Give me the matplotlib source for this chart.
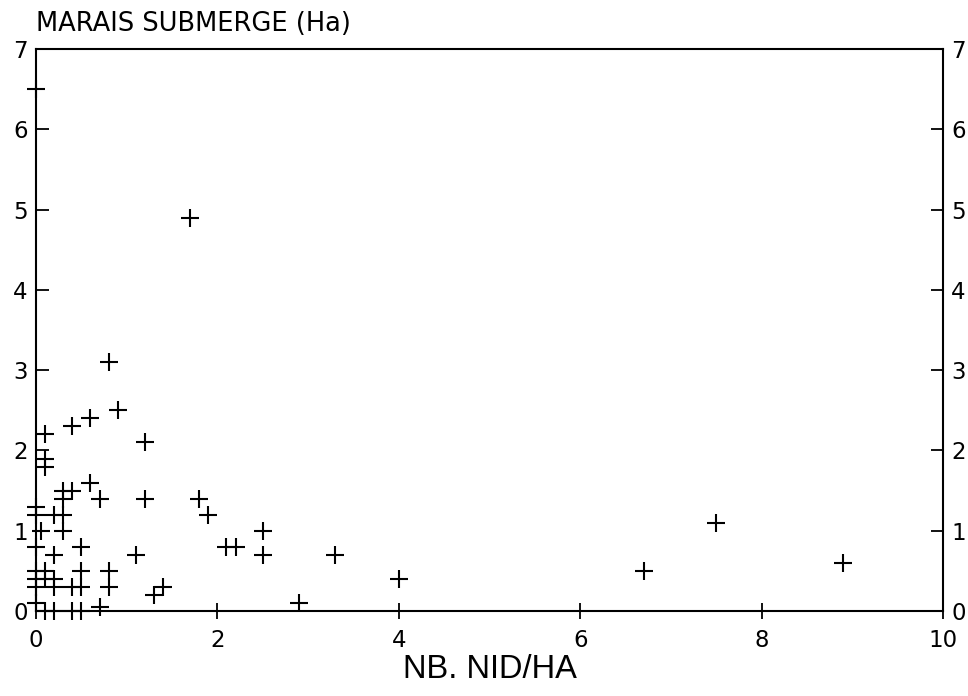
import matplotlib
matplotlib.use("Agg")
import matplotlib.pyplot as plt

# nests per hectare vs submerged marsh area
nid_ha = [0.0, 1.7, 0.8, 0.9, 0.6, 0.4, 0.1, 1.2, 0.1, 0.1,
          0.6, 0.3, 0.4, 0.3, 0.7, 1.2, 1.8, 1.9, 0.0, 0.0,
          0.2, 0.3, 0.05, 0.3, 0.0, 0.2, 0.5, 1.1, 2.1, 2.2,
          2.5, 2.5, 3.3, 4.0, 2.9, 6.7, 7.5, 8.9,
          0.0, 0.1, 0.5, 0.8, 0.0, 0.1, 0.2, 0.0, 0.2, 0.4,
          0.5, 0.8, 1.3, 1.4, 0.0, 0.7, 0.1, 0.2, 0.4, 0.5]
marais = [6.5, 4.9, 3.1, 2.5, 2.4, 2.3, 2.2, 2.1, 1.9, 1.8,
          1.6, 1.5, 1.5, 1.4, 1.4, 1.4, 1.4, 1.2, 1.3, 1.2,
          1.2, 1.2, 1.0, 1.0, 0.8, 0.7, 0.8, 0.7, 0.8, 0.8,
          1.0, 0.7, 0.7, 0.4, 0.1, 0.5, 1.1, 0.6,
          0.5, 0.5, 0.5, 0.5, 0.4, 0.4, 0.4, 0.3, 0.3, 0.3,
          0.3, 0.3, 0.2, 0.3, 0.1, 0.05, 0.0, 0.0, 0.0, 0.0]

xticks = [0, 2, 4, 6, 8, 10]
yticks = [0, 1, 2, 3, 4, 5, 6, 7]

plt.rcParams['font.family'] = ['DejaVu Sans']

fig = plt.figure(figsize=(9.68, 6.96), dpi=100)
ax = fig.add_axes([0.0372, 0.122, 0.937, 0.8076])

ax.plot(nid_ha, marais, linestyle='none', marker='+', markersize=13,
        markeredgewidth=1.5, color='black', clip_on=False)

ax.set_xlim(0, 10)
ax.set_ylim(0, 7)
ax.set_xticks(xticks)
ax.set_yticks(yticks)
for s in ax.spines.values():
    s.set_linewidth(1.5)

ax.tick_params(axis='x', direction='inout', length=12, width=1.3,
               labelsize=16.5, pad=7)
ax.tick_params(axis='y', direction='in', length=9, width=1.3,
               labelsize=16.5, pad=6, right=True, labelright=True)

ax.set_xlabel('NB. NID/HA', fontsize=23.5, labelpad=1,
              family='Liberation Sans')
fig.text(0.0372, 0.947, 'MARAIS SUBMERGE (Ha)', fontsize=18.5,
         ha='left', va='bottom')

plt.savefig('out.png', dpi=100)
